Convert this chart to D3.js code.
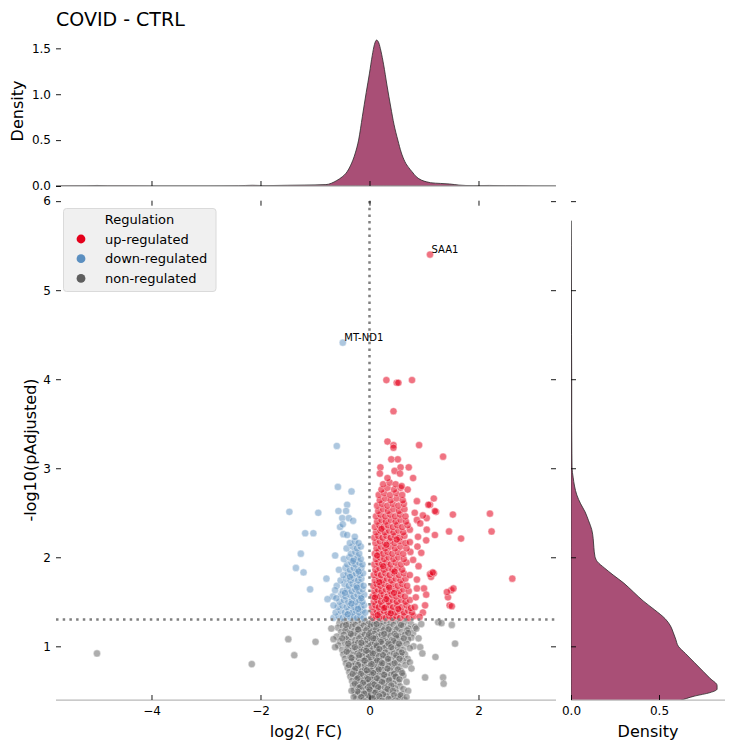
<!DOCTYPE html>
<html>
<head>
<meta charset="utf-8">
<script src="https://cdn.jsdelivr.net/npm/d3@7"></script>
<style>
html,body{margin:0;padding:0;background:#fff;}
text{font-family:"DejaVu Sans",sans-serif;}
</style>
</head>
<body>
<svg id="chart" width="733" height="748"></svg>
<script>
// ---------------- data ----------------
const titleText = "COVID - CTRL";
const categories = ["up-regulated", "down-regulated", "non-regulated"];
const xTicks = [-4, -2, 0, 2];
const yTicks = [1, 2, 3, 4, 5, 6];
const topDensTicks = [0, 0.5, 1.0, 1.5];
const rightDensTicks = [0, 0.5];
const pThreshold = 1.3;   // -log10(0.05)
const fcThreshold = 0;

const upReg = [
[0.06,1.32],[0.12,1.34],[0.18,1.32],[0.24,1.34],[0.30,1.32],[0.36,1.34],[0.42,1.32],[0.49,1.34],[0.56,1.32],[0.64,1.34],[0.72,1.32],[0.81,1.34],
[0.07,1.38],[0.13,1.40],[0.19,1.38],[0.26,1.40],[0.33,1.38],[0.40,1.40],[0.47,1.38],[0.55,1.40],[0.63,1.38],[0.71,1.40],[0.78,1.38],
[0.05,1.44],[0.11,1.46],[0.17,1.44],[0.23,1.46],[0.29,1.44],[0.36,1.46],[0.43,1.44],[0.51,1.46],[0.59,1.44],[0.68,1.46],[0.76,1.43],
[0.08,1.50],[0.14,1.52],[0.21,1.50],[0.28,1.52],[0.35,1.50],[0.42,1.52],[0.50,1.50],[0.58,1.52],[0.66,1.50],[0.74,1.52],
[0.06,1.56],[0.12,1.58],[0.19,1.56],[0.26,1.58],[0.33,1.56],[0.41,1.58],[0.49,1.56],[0.57,1.58],[0.65,1.56],
[0.09,1.62],[0.15,1.64],[0.22,1.62],[0.30,1.64],[0.38,1.62],[0.46,1.64],[0.54,1.62],[0.62,1.64],[0.72,1.62],
[0.07,1.68],[0.13,1.70],[0.20,1.68],[0.27,1.70],[0.35,1.68],[0.43,1.70],[0.52,1.68],[0.60,1.70],[0.69,1.68],
[0.10,1.74],[0.17,1.76],[0.24,1.74],[0.32,1.76],[0.40,1.74],[0.48,1.76],[0.57,1.74],[0.66,1.76],
[0.08,1.80],[0.14,1.82],[0.21,1.80],[0.29,1.82],[0.37,1.80],[0.45,1.82],[0.54,1.80],[0.63,1.82],[0.74,1.80],
[0.11,1.86],[0.18,1.88],[0.26,1.86],[0.34,1.88],[0.42,1.86],[0.51,1.88],[0.60,1.86],
[0.09,1.92],[0.16,1.94],[0.23,1.92],[0.31,1.94],[0.39,1.92],[0.48,1.94],[0.58,1.92],[0.68,1.94],
[0.12,1.98],[0.19,2.00],[0.27,1.98],[0.35,2.00],[0.44,1.98],[0.53,2.00],[0.63,1.98],
[0.10,2.04],[0.17,2.06],[0.25,2.04],[0.33,2.06],[0.42,2.04],[0.52,2.06],[0.62,2.04],[0.75,2.06],
[0.13,2.10],[0.21,2.12],[0.29,2.10],[0.38,2.12],[0.47,2.10],[0.57,2.12],[0.68,2.10],
[0.11,2.16],[0.19,2.18],[0.28,2.16],[0.37,2.18],[0.46,2.16],[0.56,2.18],[0.66,2.16],[0.74,2.17],
[0.09,2.22],[0.16,2.24],[0.24,2.22],[0.31,2.24],[0.39,2.22],[0.47,2.24],[0.55,2.22],[0.64,2.24],[0.89,2.23],
[0.12,2.28],[0.20,2.30],[0.28,2.28],[0.36,2.30],[0.44,2.28],[0.53,2.30],[0.62,2.28],[0.74,2.31],
[0.10,2.34],[0.18,2.36],[0.26,2.34],[0.34,2.36],[0.43,2.34],[0.51,2.36],[0.60,2.34],[0.70,2.36],
[0.14,2.40],[0.22,2.42],[0.30,2.40],[0.39,2.42],[0.48,2.40],[0.57,2.42],[0.67,2.40],[0.87,2.42],
[0.12,2.46],[0.20,2.48],[0.29,2.46],[0.38,2.48],[0.47,2.46],[0.56,2.48],[0.66,2.46],
[0.16,2.52],[0.25,2.54],[0.34,2.52],[0.44,2.54],[0.54,2.52],[0.64,2.54],[0.83,2.50],
[0.14,2.58],[0.23,2.60],[0.33,2.58],[0.43,2.60],[0.53,2.58],[0.63,2.60],
[0.19,2.64],[0.29,2.66],[0.39,2.64],[0.50,2.66],[0.61,2.64],[0.87,2.63],
[0.17,2.70],[0.27,2.72],[0.38,2.70],[0.49,2.72],[0.60,2.70],
[0.22,2.76],[0.33,2.78],[0.45,2.76],[0.57,2.78],[0.70,2.76],
[0.25,2.82],[0.37,2.84],[0.48,2.82],[0.59,2.80],
[1.11,5.40],[0.31,3.99],[0.50,3.96],[0.53,3.96],[0.78,3.99],[0.44,3.64],[0.33,3.30],[0.44,3.26],[0.44,3.23],[0.91,3.26],
[1.35,3.13],[0.20,3.01],[0.40,3.10],[0.52,3.10],[0.57,3.01],[0.72,3.01],[0.46,2.97],[0.80,2.89],[0.33,2.89],[0.19,2.94],[0.56,2.94],
[1.18,2.66],[1.11,2.59],[1.08,2.59],[1.22,2.51],[1.20,2.52],[1.05,2.44],[1.53,2.48],[2.21,2.49],[2.24,2.29],[1.46,2.29],
[1.68,2.21],[1.20,2.25],[1.05,2.31],[1.04,2.19],[0.93,2.38],[0.98,2.47],[2.62,1.76],[1.50,1.63],[1.44,1.55],[1.47,1.46],
[1.13,1.78],[1.18,1.82],[1.11,1.81],[1.16,1.83],[0.87,1.75],[1.42,1.61],[1.54,1.65],[1.51,1.45],[1.00,1.65],[1.04,1.58],
[0.87,1.65],[1.02,1.46],[0.83,1.44],[0.90,1.90],[0.95,2.05],[0.88,2.12],[0.98,1.38],[0.92,1.33],[0.85,1.55],[0.80,1.97],
[0.15,1.35],[0.27,1.43],[0.39,1.37],[0.53,1.42],[0.10,1.55],[0.31,1.53],[0.45,1.60],[0.18,1.72],[0.36,1.66],[0.25,1.90],
[0.46,1.84],[0.14,2.02],[0.31,2.14],[0.50,2.20],[0.22,2.32]
];

const downReg = [
[-0.66,1.32],[-0.57,1.34],[-0.49,1.32],[-0.42,1.34],[-0.35,1.32],[-0.29,1.34],[-0.23,1.32],[-0.17,1.34],[-0.11,1.32],
[-0.62,1.38],[-0.53,1.40],[-0.45,1.38],[-0.38,1.40],[-0.31,1.38],[-0.25,1.40],[-0.19,1.38],[-0.13,1.40],[-0.08,1.38],
[-0.58,1.44],[-0.50,1.46],[-0.42,1.44],[-0.35,1.46],[-0.28,1.44],[-0.22,1.46],[-0.16,1.44],[-0.10,1.46],
[-0.55,1.50],[-0.47,1.52],[-0.39,1.50],[-0.32,1.52],[-0.25,1.50],[-0.19,1.52],[-0.13,1.50],
[-0.67,1.56],[-0.52,1.58],[-0.44,1.56],[-0.36,1.58],[-0.29,1.56],[-0.22,1.58],[-0.16,1.56],[-0.10,1.58],
[-0.49,1.62],[-0.41,1.64],[-0.33,1.62],[-0.26,1.64],[-0.19,1.62],[-0.13,1.64],
[-0.60,1.68],[-0.46,1.70],[-0.38,1.68],[-0.31,1.70],[-0.24,1.68],[-0.17,1.70],[-0.11,1.68],
[-0.53,1.74],[-0.43,1.76],[-0.35,1.74],[-0.28,1.76],[-0.21,1.74],[-0.15,1.76],
[-0.48,1.80],[-0.40,1.82],[-0.32,1.80],[-0.25,1.82],[-0.18,1.80],[-0.12,1.82],
[-0.56,1.86],[-0.44,1.88],[-0.36,1.86],[-0.29,1.88],[-0.22,1.86],[-0.15,1.88],
[-0.41,1.92],[-0.33,1.94],[-0.26,1.92],[-0.19,1.94],[-0.13,1.92],
[-0.47,1.98],[-0.37,2.00],[-0.29,1.98],[-0.22,2.00],[-0.16,1.98],
[-0.34,2.04],[-0.26,2.06],[-0.19,2.04],
[-0.42,2.10],[-0.31,2.12],[-0.23,2.10],[-0.16,2.12],
[-0.36,2.16],[-0.27,2.18],[-0.20,2.16],
[-0.49,4.41],[-0.60,3.25],[-0.58,2.79],[-0.33,2.74],[-1.47,2.51],[-0.94,2.50],[-0.41,2.59],[-0.57,2.52],[-0.43,2.52],
[-0.50,2.44],[-0.38,2.44],[-0.30,2.41],[-0.54,2.34],[-0.49,2.37],[-1.18,2.27],[-1.03,2.27],[-0.48,2.26],[-0.41,2.25],
[-0.27,2.23],[-1.26,2.04],[-0.63,2.02],[-1.35,1.88],[-1.21,1.83],[-1.09,1.64],[-0.79,1.76],[-0.77,1.53],[-0.66,1.46],
[-0.63,1.63],[-0.61,1.54],
[-0.40,1.36],[-0.21,1.42],[-0.33,1.48],[-0.15,1.54],[-0.45,1.60],[-0.23,1.66],[-0.36,1.78],[-0.20,1.84],[-0.30,1.96]
];

const nonReg = [
[-0.55,1.26],[-0.46,1.28],[-0.38,1.25],[-0.30,1.27],[-0.22,1.29],[-0.15,1.26],[-0.08,1.28],[-0.02,1.25],[0.04,1.27],[0.10,1.29],[0.17,1.26],[0.24,1.28],[0.31,1.25],[0.39,1.27],[0.47,1.29],[0.56,1.26],[0.66,1.28],[0.76,1.25],
[-0.58,1.21],[-0.49,1.23],[-0.41,1.20],[-0.33,1.22],[-0.26,1.24],[-0.18,1.21],[-0.11,1.23],[-0.04,1.20],[0.02,1.22],[0.08,1.24],[0.14,1.21],[0.21,1.23],[0.28,1.20],[0.36,1.22],[0.44,1.24],[0.53,1.21],[0.62,1.23],[0.72,1.20],[0.84,1.22],
[-0.52,1.16],[-0.44,1.18],[-0.36,1.15],[-0.28,1.17],[-0.20,1.19],[-0.13,1.16],[-0.06,1.18],[0.01,1.15],[0.06,1.17],[0.12,1.19],[0.19,1.16],[0.26,1.18],[0.33,1.15],[0.41,1.17],[0.50,1.19],[0.59,1.16],[0.69,1.18],[0.80,1.15],
[-0.60,1.11],[-0.47,1.13],[-0.39,1.10],[-0.31,1.12],[-0.23,1.14],[-0.16,1.11],[-0.09,1.13],[-0.03,1.10],[0.03,1.12],[0.09,1.14],[0.15,1.11],[0.22,1.13],[0.30,1.10],[0.38,1.12],[0.46,1.14],[0.55,1.11],[0.65,1.13],[0.77,1.10],
[-0.54,1.06],[-0.42,1.08],[-0.34,1.05],[-0.26,1.07],[-0.19,1.09],[-0.12,1.06],[-0.05,1.08],[0.00,1.05],[0.05,1.07],[0.11,1.09],[0.18,1.06],[0.25,1.08],[0.33,1.05],[0.41,1.07],[0.50,1.09],[0.60,1.06],[0.71,1.08],
[-0.57,1.01],[-0.45,1.03],[-0.37,1.00],[-0.29,1.02],[-0.21,1.04],[-0.14,1.01],[-0.07,1.03],[-0.01,1.00],[0.04,1.02],[0.10,1.04],[0.16,1.01],[0.23,1.03],[0.31,1.00],[0.39,1.02],[0.48,1.04],[0.57,1.01],[0.68,1.03],[0.81,1.00],
[-0.50,0.96],[-0.40,0.98],[-0.32,0.95],[-0.24,0.97],[-0.17,0.99],[-0.10,0.96],[-0.04,0.98],[0.02,0.95],[0.07,0.97],[0.13,0.99],[0.20,0.96],[0.27,0.98],[0.35,0.95],[0.43,0.97],[0.52,0.99],[0.62,0.96],[0.74,0.98],
[-0.48,0.91],[-0.38,0.93],[-0.30,0.90],[-0.22,0.92],[-0.15,0.94],[-0.08,0.91],[-0.02,0.93],[0.03,0.90],[0.09,0.92],[0.15,0.94],[0.22,0.91],[0.29,0.93],[0.37,0.90],[0.45,0.92],[0.54,0.94],[0.65,0.91],
[-0.45,0.86],[-0.35,0.88],[-0.27,0.85],[-0.20,0.87],[-0.13,0.89],[-0.06,0.86],[-0.01,0.88],[0.05,0.85],[0.11,0.87],[0.17,0.89],[0.24,0.86],[0.31,0.88],[0.39,0.85],[0.48,0.87],[0.58,0.89],[0.70,0.86],
[-0.43,0.81],[-0.33,0.83],[-0.25,0.80],[-0.18,0.82],[-0.11,0.84],[-0.05,0.81],[0.01,0.83],[0.06,0.80],[0.12,0.82],[0.19,0.84],[0.26,0.81],[0.34,0.83],[0.42,0.80],[0.51,0.82],[0.61,0.84],
[-0.40,0.76],[-0.31,0.78],[-0.23,0.75],[-0.16,0.77],[-0.09,0.79],[-0.03,0.76],[0.02,0.78],[0.08,0.75],[0.14,0.77],[0.21,0.79],[0.28,0.76],[0.36,0.78],[0.45,0.75],[0.55,0.77],[0.66,0.79],
[-0.37,0.71],[-0.28,0.73],[-0.21,0.70],[-0.14,0.72],[-0.08,0.74],[-0.02,0.71],[0.03,0.73],[0.09,0.70],[0.15,0.72],[0.22,0.74],[0.30,0.71],[0.38,0.73],[0.47,0.70],[0.58,0.72],
[-0.35,0.66],[-0.26,0.68],[-0.19,0.65],[-0.12,0.67],[-0.06,0.69],[-0.01,0.66],[0.04,0.68],[0.10,0.65],[0.17,0.67],[0.24,0.69],[0.32,0.66],[0.40,0.68],[0.50,0.65],[0.62,0.67],
[-0.32,0.61],[-0.24,0.63],[-0.17,0.60],[-0.11,0.62],[-0.05,0.64],[0.00,0.61],[0.05,0.63],[0.11,0.60],[0.18,0.62],[0.25,0.64],[0.33,0.61],[0.42,0.63],[0.53,0.60],
[-0.30,0.56],[-0.22,0.58],[-0.15,0.55],[-0.09,0.57],[-0.04,0.59],[0.01,0.56],[0.06,0.58],[0.12,0.55],[0.19,0.57],[0.27,0.59],[0.35,0.56],[0.44,0.58],[0.56,0.55],
[-0.28,0.51],[-0.20,0.53],[-0.14,0.50],[-0.08,0.52],[-0.03,0.54],[0.02,0.51],[0.07,0.53],[0.13,0.50],[0.20,0.52],[0.28,0.54],[0.37,0.51],[0.47,0.53],
[-0.26,0.46],[-0.19,0.48],[-0.12,0.45],[-0.07,0.47],[-0.02,0.49],[0.03,0.46],[0.08,0.48],[0.14,0.45],[0.21,0.47],[0.29,0.49],[0.38,0.46],[0.50,0.48],
[-0.24,0.41],[-0.17,0.43],[-0.11,0.40],[-0.06,0.42],[-0.01,0.44],[0.04,0.41],[0.09,0.43],[0.15,0.40],[0.22,0.42],[0.31,0.44],[0.40,0.41],[0.52,0.43],
[-0.20,0.37],[-0.12,0.39],[-0.05,0.36],[0.01,0.38],[0.07,0.37],[0.13,0.39],[0.20,0.36],[0.28,0.38],[0.37,0.37],
[-0.43,1.24],[-0.21,1.19],[0.13,1.25],[0.35,1.19],[0.58,1.24],[-0.34,1.14],[-0.01,1.13],[0.27,1.14],[0.49,1.12],[0.71,1.15],
[-0.50,1.09],[-0.15,1.04],[0.07,1.09],[0.21,1.05],[0.44,1.06],[0.63,1.09],[-0.39,1.03],[0.13,1.01],[0.35,1.03],[0.54,1.03],
[-0.27,0.99],[-0.06,0.95],[0.18,0.97],[0.40,0.99],[0.59,0.93],[-0.42,0.94],[-0.19,0.90],[0.06,0.92],[0.25,0.90],[0.49,0.90],
[-0.33,0.87],[-0.09,0.84],[0.14,0.84],[0.34,0.86],[0.55,0.86],[-0.38,0.79],[-0.21,0.79],[0.04,0.80],[0.23,0.81],[0.46,0.81],
[-0.26,0.75],[-0.05,0.73],[0.17,0.74],[0.33,0.75],[0.52,0.74],[-0.31,0.69],[-0.16,0.69],[0.07,0.70],[0.27,0.68],[0.45,0.69],
[-0.22,0.64],[-0.03,0.63],[0.14,0.64],[0.36,0.62],[0.48,0.66],[-0.27,0.58],[-0.12,0.59],[0.09,0.57],[0.23,0.60],[0.40,0.56],
[-0.18,0.54],[0.00,0.52],[0.16,0.54],[0.33,0.52],[0.43,0.50],[-0.22,0.49],[-0.10,0.47],[0.11,0.48],[0.25,0.46],[0.45,0.45],
[-0.15,0.43],[0.06,0.42],[0.18,0.44],[0.35,0.41],[0.47,0.39],[-0.08,0.38],[0.23,0.39],[0.42,0.37],[0.55,0.41],[0.60,0.46],
[0.62,0.52],[0.57,0.45],[0.64,0.40],[0.55,0.63],[0.60,0.70],[-0.29,0.43],[-0.33,0.50],
[-5.00,0.92],[-2.16,0.80],[-1.49,1.08],[-1.38,0.90],[-0.99,1.05],[-0.70,1.20],[-0.66,1.08],[-0.63,0.99],[1.26,1.27],[1.32,1.26],
[1.51,1.24],[1.57,1.03],[1.21,0.88],[1.02,0.65],[1.35,0.65],[1.36,0.58],[0.90,1.09],[0.93,0.99],[0.97,0.92],[0.74,0.82],
[0.77,0.75],[0.68,0.60],[0.71,0.50],[0.68,0.43],[0.86,1.20],[0.95,1.25]
];

const annotations = [["SAA1", 1.11, 5.40], ["MT-ND1", -0.49, 4.41]];

// marginal density of log2(FC): [log2FC, density]
const topDensity = [
[-5.75,0.001],[-5.2,0.002],[-5.0,0.006],[-4.8,0.002],[-4.0,0.001],[-3.0,0.001],[-2.4,0.003],[-2.15,0.008],[-1.9,0.004],
[-1.5,0.008],[-1.2,0.010],[-1.0,0.012],[-0.8,0.015],[-0.7,0.03],[-0.6,0.06],[-0.5,0.10],[-0.43,0.14],[-0.35,0.22],
[-0.26,0.36],[-0.2,0.50],[-0.13,0.76],[-0.06,1.02],[0.0,1.23],[0.05,1.42],[0.09,1.54],[0.13,1.59],[0.17,1.56],
[0.21,1.47],[0.26,1.32],[0.32,1.10],[0.39,0.86],[0.45,0.67],[0.52,0.50],[0.58,0.37],[0.65,0.265],[0.72,0.20],
[0.78,0.156],[0.86,0.10],[0.95,0.065],[1.05,0.045],[1.12,0.036],[1.3,0.028],[1.47,0.022],[1.64,0.010],[1.9,0.004],
[2.2,0.006],[2.5,0.003],[2.7,0.004],[3.0,0.001],[3.42,0.0]
];
// marginal density of -log10(pAdjusted): [-log10(p), density]
const rightDensity = [
[5.78,0.0],[5.5,0.001],[5.0,0.002],[4.5,0.003],[4.0,0.004],[3.5,0.004],[3.17,0.005],[3.0,0.006],[2.9,0.012],[2.8,0.02],
[2.7,0.033],[2.6,0.055],[2.51,0.08],[2.41,0.10],[2.31,0.118],[2.21,0.126],[2.11,0.13],[2.01,0.136],[1.95,0.15],
[1.88,0.19],[1.80,0.24],[1.71,0.30],[1.61,0.355],[1.51,0.41],[1.41,0.475],[1.31,0.535],[1.23,0.565],[1.16,0.58],
[1.08,0.595],[1.00,0.61],[0.92,0.65],[0.82,0.70],[0.72,0.75],[0.64,0.79],[0.56,0.83],[0.52,0.83],[0.48,0.79],
[0.44,0.70],[0.39,0.62],[0.30,0.50]
];

// ---------------- drawing ----------------
const colors = {"up-regulated":"#e4001b","down-regulated":"#5b8fc0","non-regulated":"#5e5e5e"};
const densFill = "#a94f76";
const spineColor = "#b8b8b8";
const svg = d3.select("#chart");

const x = d3.scaleLinear().domain([-5.752, 3.422]).range([56, 556]);
const y = d3.scaleLinear().domain([0.397, 6.005]).range([700, 200.7]);
const topY = d3.scaleLinear().domain([0, 1.63]).range([186, 36.4]);
const rightX = d3.scaleLinear().domain([0, 0.875]).range([571, 725]);

const defs = svg.append("defs");
defs.append("clipPath").attr("id","mainClip").append("rect")
  .attr("x",56).attr("y",200.7).attr("width",500).attr("height",499.3);
defs.append("clipPath").attr("id","rightClip").append("rect")
  .attr("x",571).attr("y",200).attr("width",162).attr("height",500);
defs.append("clipPath").attr("id","topClip").append("rect")
  .attr("x",56).attr("y",20).attr("width",500).attr("height",166);

// top density
const topArea = d3.area().x(d=>x(d[0])).y0(topY(0)).y1(d=>topY(d[1])).curve(d3.curveMonotoneX);
svg.append("g").attr("clip-path","url(#topClip)").append("path")
  .datum(topDensity).attr("d", topArea)
  .attr("fill", densFill).attr("stroke","#2a2a2a").attr("stroke-width",0.8);
svg.append("line").attr("x1",56).attr("x2",556).attr("y1",186).attr("y2",186)
  .attr("stroke",spineColor).attr("stroke-width",1.25);

// right density
const rightArea = d3.area().y(d=>y(d[0])).x0(rightX(0)).x1(d=>rightX(d[1])).curve(d3.curveMonotoneY);
svg.append("g").attr("clip-path","url(#rightClip)").append("path")
  .datum(rightDensity).attr("d", rightArea)
  .attr("fill", densFill).attr("stroke","#2a2a2a").attr("stroke-width",0.8);
svg.append("line").attr("x1",571).attr("x2",725).attr("y1",700).attr("y2",700)
  .attr("stroke",spineColor).attr("stroke-width",1.25);

// scatter
const pts = svg.append("g").attr("clip-path","url(#mainClip)");
const groups = [["non-regulated", nonReg, 0.5], ["down-regulated", downReg, 0.5], ["up-regulated", upReg, 0.55]];
groups.forEach(([cat, data, a]) => {
  pts.append("g").selectAll("circle").data(data).join("circle")
    .attr("cx", d=>x(d[0])).attr("cy", d=>y(d[1])).attr("r", 3.6)
    .attr("fill", colors[cat]).attr("fill-opacity", a)
    .attr("stroke", "#fff").attr("stroke-width", 0.7).attr("stroke-opacity", 0.6);
});

// threshold lines
svg.append("line").attr("x1", x(fcThreshold)).attr("x2", x(fcThreshold)).attr("y1", 201).attr("y2", 700)
  .attr("stroke","#808080").attr("stroke-width",2.5).attr("stroke-dasharray","2.5,4.2");
svg.append("line").attr("x1", 56).attr("x2", 556).attr("y1", y(pThreshold)).attr("y2", y(pThreshold))
  .attr("stroke","#808080").attr("stroke-width",2.5).attr("stroke-dasharray","2.5,4.2");

// main bottom spine
svg.append("line").attr("x1",56).attr("x2",556).attr("y1",700).attr("y2",700)
  .attr("stroke",spineColor).attr("stroke-width",1.25);

// annotations
svg.append("g").selectAll("text").data(annotations).join("text")
  .attr("x", d=>x(d[1])+1.5).attr("y", d=>y(d[2])-1.5)
  .attr("font-size", 10).attr("fill","#000").text(d=>d[0]);

// axes helper
function styleAxis(g, fs){
  g.select(".domain").remove();
  g.selectAll(".tick line").attr("stroke","#000").attr("stroke-width",0.9);
  g.selectAll(".tick text").attr("font-family","DejaVu Sans, sans-serif").attr("font-size",fs).attr("fill","#000");
}
// main bottom
svg.append("g").attr("transform","translate(0,700)")
  .call(d3.axisBottom(x).tickValues(xTicks).tickSizeInner(-5).tickSizeOuter(0).tickPadding(6).tickFormat(d3.format("d")))
  .call(g=>styleAxis(g,12));
// main left
svg.append("g").attr("transform","translate(56,0)")
  .call(d3.axisLeft(y).tickValues(yTicks).tickSizeInner(-5).tickSizeOuter(0).tickPadding(5).tickFormat(d3.format("d")))
  .call(g=>styleAxis(g,12));
// main top (ticks only)
svg.append("g").attr("transform","translate(0,200.7)")
  .call(d3.axisTop(x).tickValues(xTicks).tickSizeInner(-5).tickSizeOuter(0).tickFormat(""))
  .call(g=>styleAxis(g,12));
// main right (ticks only)
svg.append("g").attr("transform","translate(556,0)")
  .call(d3.axisRight(y).tickValues(yTicks).tickSizeInner(-5).tickSizeOuter(0).tickFormat(""))
  .call(g=>styleAxis(g,12));
// top marginal
svg.append("g").attr("transform","translate(0,186)")
  .call(d3.axisBottom(x).tickValues(xTicks).tickSizeInner(-5).tickSizeOuter(0).tickFormat(""))
  .call(g=>styleAxis(g,12));
svg.append("g").attr("transform","translate(56,0)")
  .call(d3.axisLeft(topY).tickValues(topDensTicks).tickSizeInner(-5).tickSizeOuter(0).tickPadding(5).tickFormat(d3.format(".1f")))
  .call(g=>styleAxis(g,12));
// right marginal
svg.append("g").attr("transform","translate(571,0)")
  .call(d3.axisLeft(y).tickValues(yTicks).tickSizeInner(-5).tickSizeOuter(0).tickFormat(""))
  .call(g=>styleAxis(g,12));
svg.append("g").attr("transform","translate(0,700)")
  .call(d3.axisBottom(rightX).tickValues(rightDensTicks).tickSizeInner(-5).tickSizeOuter(0).tickPadding(6).tickFormat(d3.format(".1f")))
  .call(g=>styleAxis(g,12));

// labels
svg.append("text").attr("x",56).attr("y",26).attr("font-size",19).attr("fill","#000").text(titleText);
svg.append("text").attr("x",306).attr("y",737).attr("text-anchor","middle").attr("font-size",16).text("log2( FC)");
svg.append("text").attr("x",648).attr("y",737).attr("text-anchor","middle").attr("font-size",16).text("Density");
svg.append("text").attr("transform","translate(36,450) rotate(-90)").attr("text-anchor","middle").attr("font-size",16).text("-log10(pAdjusted)");
svg.append("text").attr("transform","translate(23,111) rotate(-90)").attr("text-anchor","middle").attr("font-size",16).text("Density");

// legend
const lg = svg.append("g");
lg.append("rect").attr("x",63.5).attr("y",208.5).attr("width",152.5).attr("height",83).attr("rx",3)
  .attr("fill","#f0f0f0").attr("stroke","#dadada").attr("stroke-width",1);
lg.append("text").attr("x",139.5).attr("y",224).attr("text-anchor","middle").attr("font-size",13).text("Regulation");
categories.forEach((c,i)=>{
  const cy = 239 + i*19.7;
  lg.append("circle").attr("cx",81).attr("cy",cy).attr("r",4.4).attr("fill",colors[c]);
  lg.append("text").attr("x",105).attr("y",cy+4.5).attr("font-size",13).text(c);
});
</script>
</body>
</html>
